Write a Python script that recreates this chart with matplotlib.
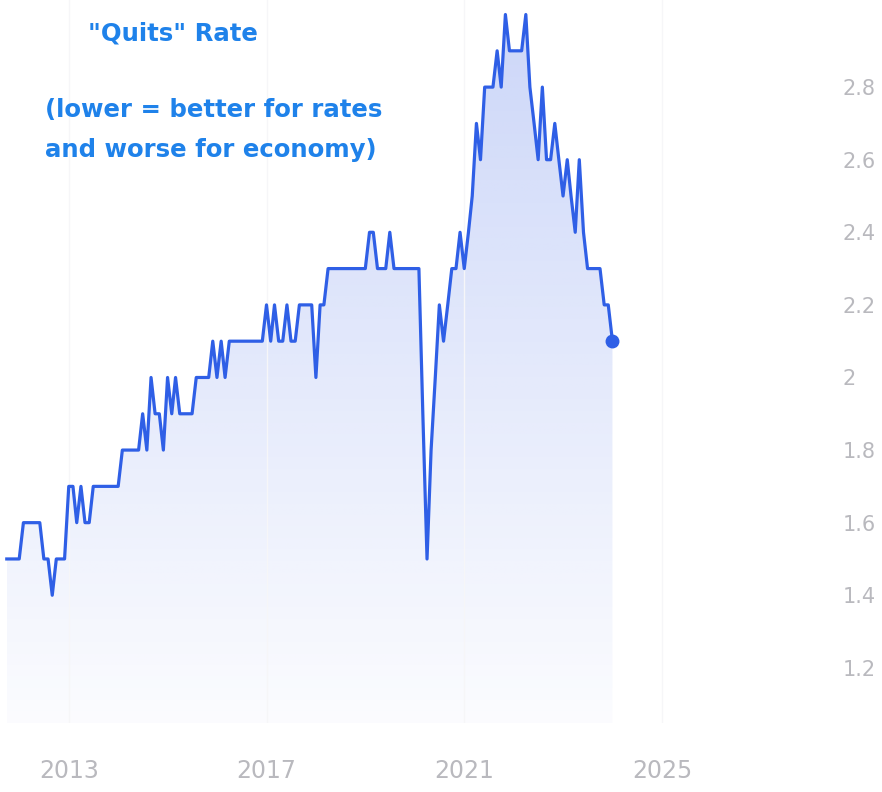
import numpy as np
import pandas as pd
import matplotlib
matplotlib.use('Agg')
import matplotlib.pyplot as plt
import matplotlib.dates as mdates
from matplotlib.colors import to_rgb

# monthly quits rate, Oct 2011 - Jan 2024
quits = [1.5, 1.5, 1.5, 1.5, 1.6, 1.6, 1.6, 1.6, 1.6, 1.5, 1.5, 1.4,
         1.5, 1.5, 1.5, 1.7, 1.7, 1.6, 1.7, 1.6, 1.6, 1.7, 1.7, 1.7,
         1.7, 1.7, 1.7, 1.7, 1.8, 1.8, 1.8, 1.8, 1.8, 1.9, 1.8, 2.0,
         1.9, 1.9, 1.8, 2.0, 1.9, 2.0, 1.9, 1.9, 1.9, 1.9, 2.0, 2.0,
         2.0, 2.0, 2.1, 2.0, 2.1, 2.0, 2.1, 2.1, 2.1, 2.1, 2.1, 2.1,
         2.1, 2.1, 2.1, 2.2, 2.1, 2.2, 2.1, 2.1, 2.2, 2.1, 2.1, 2.2,
         2.2, 2.2, 2.2, 2.0, 2.2, 2.2, 2.3, 2.3, 2.3, 2.3, 2.3, 2.3,
         2.3, 2.3, 2.3, 2.3, 2.4, 2.4, 2.3, 2.3, 2.3, 2.4, 2.3, 2.3,
         2.3, 2.3, 2.3, 2.3, 2.3, 1.9, 1.5, 1.8, 2.0, 2.2, 2.1, 2.2,
         2.3, 2.3, 2.4, 2.3, 2.4, 2.5, 2.7, 2.6, 2.8, 2.8, 2.8, 2.9,
         2.8, 3.0, 2.9, 2.9, 2.9, 2.9, 3.0, 2.8, 2.7, 2.6, 2.8, 2.6,
         2.6, 2.7, 2.6, 2.5, 2.6, 2.5, 2.4, 2.6, 2.4, 2.3, 2.3, 2.3,
         2.3, 2.2, 2.2, 2.1]
dates = pd.date_range('2011-10-01', periods=len(quits), freq='MS')
tick_years = [2013, 2017, 2021, 2025]
y_ticks = [1.2, 1.4, 1.6, 1.8, 2, 2.2, 2.4, 2.6, 2.8]
y_labels = ['1.2', '1.4', '1.6', '1.8', '2', '2.2', '2.4', '2.6', '2.8']

line_col = '#2f5fe6'
text_col = '#1f82ea'
grey = '#b9b9be'

fig = plt.figure(figsize=(8.82, 7.92), dpi=100)
ax = fig.add_axes([0, 0.0871, 0.941, 0.9129])

x = mdates.date2num(dates)
y = np.array(quits)
ax.set_xlim(pd.Timestamp('2011-08-12'), pd.Timestamp('2028-05-26'))
ax.set_ylim(1.048, 3.04)

# gradient fill under the line
poly = ax.fill_between(x, y, 1.048, color='none', lw=0)
rgb = to_rgb('#3c64e6')
grad = np.zeros((256, 2, 4))
grad[:, :, :3] = rgb
alpha = np.linspace(0.26, 0.02, 256)
grad[:, :, 3] = alpha[:, None]
img = ax.imshow(grad, aspect='auto', extent=[x[0], x[-1], 1.048, 3.0],
                origin='upper', zorder=1)
img.set_clip_path(poly.get_paths()[0], transform=ax.transData)

ax.plot(x, y, color=line_col, lw=2.3, zorder=3, solid_joinstyle='round')
ax.plot(x[-1], y[-1], 'o', color=line_col, ms=9, zorder=4)

for s in ax.spines.values():
    s.set_visible(False)
ax.set_xticks([mdates.date2num(pd.Timestamp(f'{yr}-01-01')) for yr in tick_years])
ax.set_xticklabels([str(yr) for yr in tick_years], color=grey, fontsize=17)
ax.tick_params(axis='x', length=0, pad=26)
ax.grid(axis='x', color='#f6f6f8', lw=1)
ax.yaxis.tick_right()
ax.set_yticks(y_ticks)
ax.set_yticklabels(y_labels, color=grey, fontsize=15)
ax.tick_params(axis='y', length=0, pad=9)

fig.text(173 / 882, 1 - 33 / 792, '"Quits" Rate', color=text_col, fontsize=17.6,
         fontweight='bold', ha='center', va='center')
fig.text(45 / 882, 1 - 130 / 792, '(lower = better for rates\nand worse for economy)',
         color=text_col, fontsize=17.6, fontweight='bold', ha='left', va='center',
         linespacing=1.8)

fig.savefig('out.png', dpi=100)
